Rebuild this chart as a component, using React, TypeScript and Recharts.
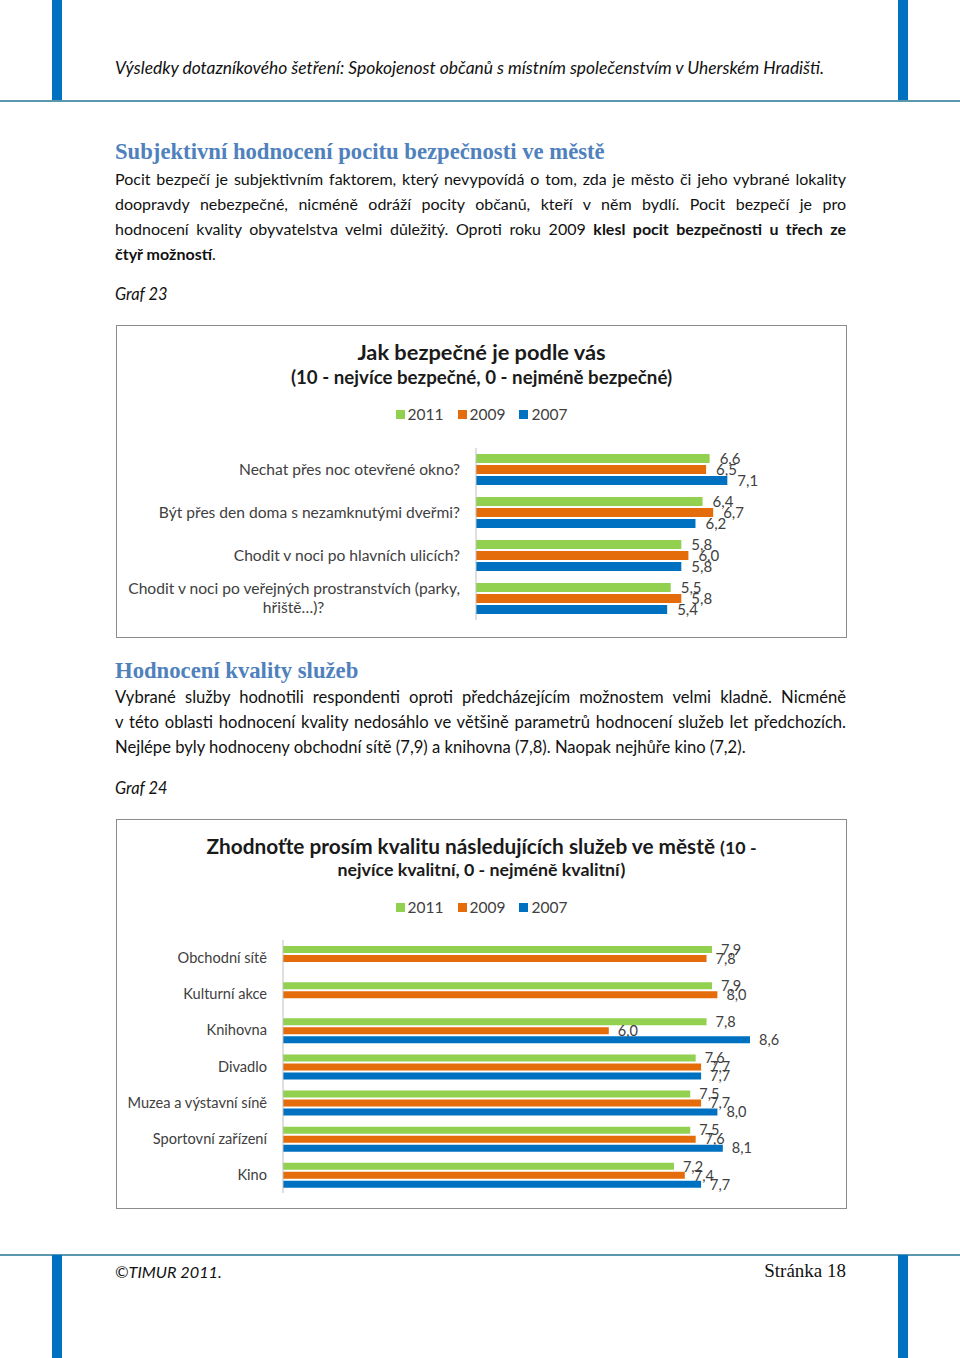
import React from 'react';
import { BarChart, Bar, XAxis, YAxis, LabelList } from 'recharts';

const years = ['2011', '2009', '2007'];
const colors = ['#92d050', '#e46c0a', '#0070c0'];

const safetyQuestions = [
  'Nechat přes noc otevřené okno?',
  'Být přes den doma s nezamknutými dveřmi?',
  'Chodit v noci po hlavních ulicích?',
  'Chodit v noci po veřejných prostranstvích (parky,\nhřiště…)?',
];
const safety2011 = [6.6, 6.4, 5.8, 5.5];
const safety2009 = [6.5, 6.7, 6.0, 5.8];
const safety2007 = [7.1, 6.2, 5.8, 5.4];

const services = [
  'Obchodní sítě',
  'Kulturní akce',
  'Knihovna',
  'Divadlo',
  'Muzea a výstavní síně',
  'Sportovní zařízení',
  'Kino',
];
const services2011 = [7.9, 7.9, 7.8, 7.6, 7.5, 7.5, 7.2];
const services2009 = [7.8, 8.0, 6.0, 7.7, 7.7, 7.6, 7.4];
const services2007 = [null, null, 8.6, 7.7, 8.0, 8.1, 7.7];

const safetyData = safetyQuestions.map((name, i) => ({
  name,
  y2011: safety2011[i],
  y2009: safety2009[i],
  y2007: safety2007[i],
}));

const servicesData = services.map((name, i) => ({
  name,
  y2011: services2011[i],
  y2009: services2009[i],
  y2007: services2007[i],
}));

const SANS = 'Lato, "Open Sans", sans-serif';
const SERIF = '"Liberation Serif", "DejaVu Serif", serif';
const TEXT = '#404040';

const fmt = (v: any) => (v == null ? '' : Number(v).toFixed(1).replace('.', ','));

let ctx: CanvasRenderingContext2D | null = null;
function measure(text: string, font: string) {
  if (!ctx) ctx = document.createElement('canvas').getContext('2d');
  if (!ctx) return text.length * 7;
  ctx.font = font;
  return ctx.measureText(text).width;
}

function CatTick(props: any) {
  const { x, y, payload, fontSize = 14 } = props;
  const lines = String(payload.value).split('\n');
  if (lines.length === 1) {
    return (
      <text x={x} y={y} dy={5} textAnchor="end" fill={TEXT} fontSize={fontSize} fontFamily={SANS}>
        {lines[0]}
      </text>
    );
  }
  const w = measure(lines[0], `${fontSize}px Lato`);
  const lh = 19;
  return (
    <g>
      {lines.map((l, i) => (
        <text
          key={i}
          x={i === 0 ? x : x - w / 2}
          y={y + (i - (lines.length - 1) / 2) * lh}
          dy={5}
          textAnchor={i === 0 ? 'end' : 'middle'}
          fill={TEXT}
          fontSize={fontSize}
          fontFamily={SANS}
        >
          {l}
        </text>
      ))}
    </g>
  );
}

function ChartLegend({ top }: { top: number }) {
  return (
    <div
      style={{
        position: 'absolute',
        top,
        left: 0,
        width: '100%',
        display: 'flex',
        justifyContent: 'center',
        fontFamily: SANS,
        fontSize: 15.5,
        color: TEXT,
        lineHeight: '18px',
      }}
    >
      {years.map((y, i) => (
        <div key={y} style={{ display: 'flex', alignItems: 'center', marginRight: i < 2 ? 14 : 0 }}>
          <span style={{ width: 9, height: 9, background: colors[i], marginRight: 3, display: 'inline-block' }} />
          <span>{y}</span>
        </div>
      ))}
    </div>
  );
}

function Bars({ size, offset, fontSize }: { size: number; offset: number; fontSize: number }) {
  return (
    <>
      {['y2011', 'y2009', 'y2007'].map((k, i) => (
        <Bar key={k} dataKey={k} name={years[i]} fill={colors[i]} barSize={size} isAnimationActive={false}>
          <LabelList
            dataKey={k}
            position="right"
            offset={offset}
            formatter={fmt}
            fill={TEXT}
            fontSize={fontSize}
            fontFamily={SANS}
          />
        </Bar>
      ))}
    </>
  );
}

const abs = (left: number, top: number, extra: React.CSSProperties = {}): React.CSSProperties => ({
  position: 'absolute',
  left,
  top,
  ...extra,
});

const bodyText: React.CSSProperties = {
  fontFamily: SANS,
  fontSize: 16,
  lineHeight: '25px',
  color: '#111',
  width: 731,
};
const justified: React.CSSProperties = { ...bodyText, textAlign: 'justify', textAlignLast: 'justify' };
const body2: React.CSSProperties = { ...bodyText, fontSize: 16.6 };
const justified2: React.CSSProperties = { ...justified, fontSize: 16.6 };
const heading: React.CSSProperties = {
  fontFamily: SERIF,
  fontWeight: 700,
  fontSize: 22.7,
  lineHeight: '26px',
  color: '#4f81bd',
  whiteSpace: 'nowrap',
};
const title1: React.CSSProperties = {
  position: 'absolute',
  width: '100%',
  textAlign: 'center',
  fontFamily: SANS,
  lineHeight: '26px',
  color: '#1a1a1a',
  fontWeight: 700,
  whiteSpace: 'nowrap',
};

export default function App() {
  return (
    <div style={{ position: 'absolute', left: 0, top: 0, width: 960, height: 1358, background: '#fff', overflow: 'hidden' }}>
      {/* header / footer decoration */}
      <div style={abs(52, 0, { width: 10, height: 101, background: '#0070c0' })} />
      <div style={abs(898, 0, { width: 10, height: 101, background: '#0070c0' })} />
      <div style={abs(0, 100, { width: 960, height: 2, background: '#5a98b0' })} />
      <div style={abs(0, 1254, { width: 960, height: 2, background: '#5a98b0' })} />
      <div style={abs(52, 1255, { width: 10, height: 103, background: '#0070c0' })} />
      <div style={abs(898, 1255, { width: 10, height: 103, background: '#0070c0' })} />

      <div style={abs(115, 55, { ...bodyText, fontSize: 17.4, fontStyle: 'italic', whiteSpace: 'nowrap' })}>
        Výsledky dotazníkového šetření: Spokojenost občanů s místním společenstvím v Uherském Hradišti.
      </div>

      <div style={abs(115, 139, heading)}>Subjektivní hodnocení pocitu bezpečnosti ve městě</div>
      <div style={abs(115, 166, justified)}>
        Pocit bezpečí je subjektivním faktorem, který nevypovídá o tom, zda je město či jeho vybrané lokality
      </div>
      <div style={abs(115, 191, justified)}>
        doopravdy nebezpečné, nicméně odráží pocity občanů, kteří v něm bydlí. Pocit bezpečí je pro
      </div>
      <div style={abs(115, 216, justified)}>
        hodnocení kvality obyvatelstva velmi důležitý. Oproti roku 2009 <b>klesl pocit bezpečnosti u třech ze</b>
      </div>
      <div style={abs(115, 241, bodyText)}>
        <b>čtyř možností</b>.
      </div>
      <div style={abs(115, 281, { ...bodyText, fontSize: 16.4, fontStyle: 'italic' })}>Graf 23</div>

      {/* chart 23 */}
      <div style={abs(116, 325, { width: 731, height: 313, border: '1px solid #8c8c8c', boxSizing: 'border-box' })}>
        <div style={{ position: 'relative', width: 729, height: 311 }}>
          <div style={{ ...title1, top: 13, fontSize: 21.8 }}>Jak bezpečné je podle vás</div>
          <div style={{ ...title1, top: 38, fontSize: 18.7 }}>(10 - nejvíce bezpečné, 0 - nejméně bezpečné)</div>
          <ChartLegend top={79} />
          <div style={{ position: 'absolute', left: 0, top: 0 }}>
            <BarChart width={729} height={311} data={safetyData} layout="vertical" barGap={2} margin={{ top: 122, right: 16, bottom: 17, left: 0 }}>
              <XAxis type="number" domain={[0, 10]} hide />
              <YAxis
                type="category"
                dataKey="name"
                width={359}
                axisLine={{ stroke: '#bfbfbf' }}
                tickLine={false}
                tickSize={0}
                tickMargin={16}
                interval={0}
                tick={<CatTick fontSize={15.6} />}
              />
              {Bars({ size: 9, offset: 10, fontSize: 15 })}
            </BarChart>
          </div>
        </div>
      </div>

      <div style={abs(115, 658, heading)}>Hodnocení kvality služeb</div>
      <div style={abs(115, 685, justified2)}>
        Vybrané služby hodnotili respondenti oproti předcházejícím možnostem velmi kladně. Nicméně
      </div>
      <div style={abs(115, 710, justified2)}>
        v této oblasti hodnocení kvality nedosáhlo ve většině parametrů hodnocení služeb let předchozích.
      </div>
      <div style={abs(115, 735, body2)}>
        Nejlépe byly hodnoceny obchodní sítě (7,9) a knihovna (7,8). Naopak nejhůře kino (7,2).
      </div>
      <div style={abs(115, 775, { ...bodyText, fontSize: 16.4, fontStyle: 'italic' })}>Graf 24</div>

      {/* chart 24 */}
      <div style={abs(116, 819, { width: 731, height: 390, border: '1px solid #8c8c8c', boxSizing: 'border-box' })}>
        <div style={{ position: 'relative', width: 729, height: 388 }}>
          <div style={{ ...title1, top: 13, fontSize: 20.8 }}>
            Zhodnoťte prosím kvalitu následujících služeb ve městě <span style={{ fontSize: 17.8 }}>(10 -</span>
          </div>
          <div style={{ ...title1, top: 37, fontSize: 17.8, lineHeight: '24px' }}>nejvíce kvalitní, 0 - nejméně kvalitní)</div>
          <ChartLegend top={78} />
          <div style={{ position: 'absolute', left: 0, top: 0 }}>
            <BarChart width={729} height={388} data={servicesData} layout="vertical" barGap={2} margin={{ top: 120, right: 20, bottom: 15, left: 0 }}>
              <XAxis type="number" domain={[0, 10]} hide />
              <YAxis
                type="category"
                dataKey="name"
                width={166}
                axisLine={{ stroke: '#bfbfbf' }}
                tickLine={false}
                tickSize={0}
                tickMargin={16}
                interval={0}
                tick={<CatTick fontSize={14.6} />}
              />
              {Bars({ size: 7, offset: 9, fontSize: 14.5 })}
            </BarChart>
          </div>
        </div>
      </div>

      <div style={abs(115, 1259, { ...bodyText, fontSize: 16.3, fontStyle: 'italic' })}>©TIMUR 2011.</div>
      <div style={abs(646, 1258, { fontFamily: SERIF, fontSize: 19, lineHeight: '26px', width: 200, textAlign: 'right', color: '#111' })}>
        Stránka 18
      </div>
    </div>
  );
}
